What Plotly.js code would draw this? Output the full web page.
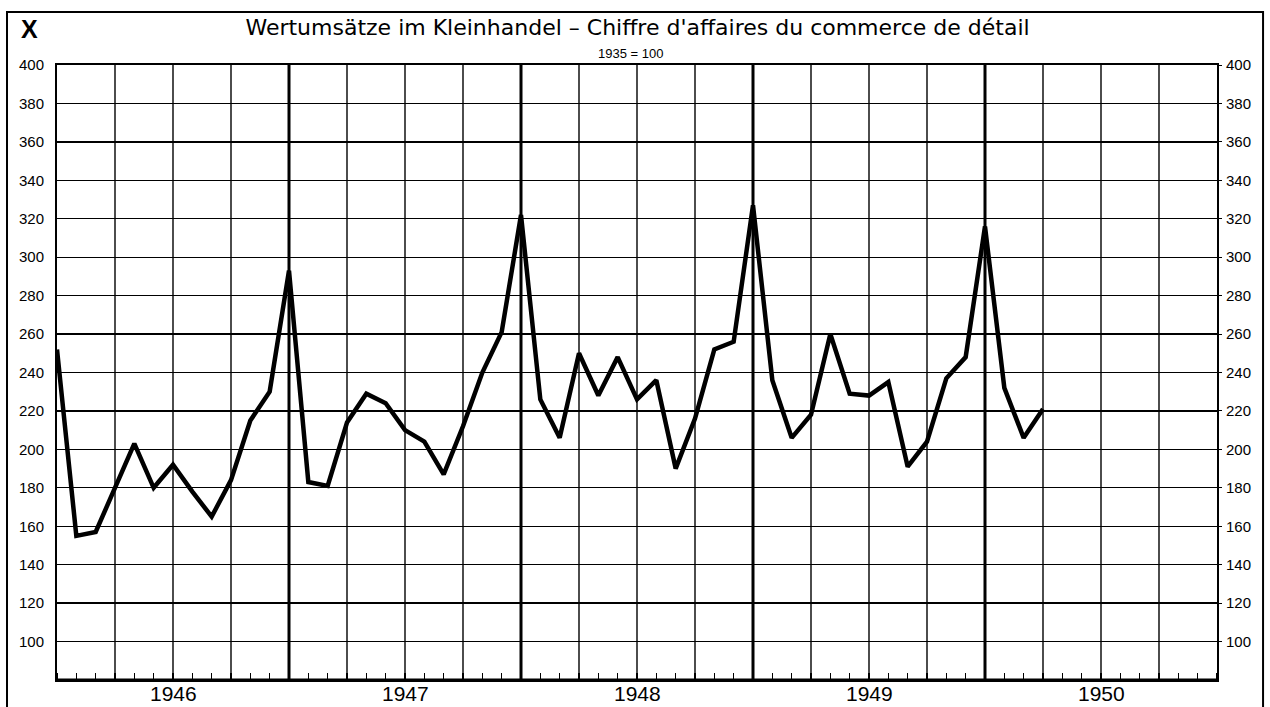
<!DOCTYPE html>
<html>
<head>
<meta charset="utf-8">
<script src="https://cdn.plot.ly/plotly-3.0.1.min.js"></script>
<style>html,body{margin:0;padding:0;background:#fff;}#chart{width:1270px;height:707px;}</style>
</head>
<body>
<div id="chart"></div>
<script>
// Retail sales value index, 1935 = 100; monthly values plotted at month end
var yearLabels = ["1946", "1947", "1948", "1949", "1950"];
var dec1945 = [252];
var v1946 = [155, 157, 180, 203, 180, 192, 178, 165, 184, 215, 230, 293];
var v1947 = [183, 181, 214, 229, 224, 210, 204, 187, 212, 240, 261, 322];
var v1948 = [226, 206, 250, 228, 248, 226, 236, 190, 216, 252, 256, 327];
var v1949 = [236, 206, 218, 260, 229, 228, 235, 191, 204, 237, 248, 316];
var v1950 = [232, 206, 221];
var yTicks = [100, 120, 140, 160, 180, 200, 220, 240, 260, 280, 300, 320, 340, 360, 380, 400];

var values = [].concat(dec1945, v1946, v1947, v1948, v1949, v1950);
// x = months elapsed since 1 Jan 1946 (month-end positions)
var xs = values.map(function (v, i) { return i; });
var nMonths = yearLabels.length * 12;
var yearMid = yearLabels.map(function (y, i) { return i * 12 + 6; });

var shapes = [];
for (var m = 3; m < nMonths; m += 3) {
  var isYear = (m % 12 === 0);
  shapes.push({type: 'line', xref: 'x', yref: 'paper', x0: m, x1: m, y0: 0, y1: 1,
    layer: 'below', line: {color: '#000', width: isYear ? 3 : 1.4}});
}
// outer frame
shapes.push({type: 'rect', xref: 'paper', yref: 'paper', x0: -0.0431, x1: 1.0397, y0: -0.08, y1: 1.0862,
  line: {color: '#000', width: 2}, fillcolor: 'rgba(0,0,0,0)', layer: 'above'});
// heavier base line
shapes.push({type: 'line', xref: 'paper', yref: 'paper', x0: 0, x1: 1, y0: 0, y1: 0,
  line: {color: '#000', width: 3}, layer: 'above'});

var font = "'Liberation Sans', Arial, sans-serif";
var wideFont = "'DejaVu Sans', sans-serif";

var traces = [
  {x: xs, y: values, type: 'scatter', mode: 'lines', line: {color: '#000', width: 4.5},
   hoverinfo: 'skip', showlegend: false, cliponaxis: true},
  {x: xs, y: values, type: 'scatter', mode: 'lines', yaxis: 'y2', line: {color: 'rgba(0,0,0,0)', width: 0},
   hoverinfo: 'skip', showlegend: false}
];

var annotations = [
  {text: 'X', xref: 'paper', yref: 'paper', x: -0.0233, y: 1.058, xanchor: 'center', yanchor: 'middle',
   showarrow: false, font: {family: font, size: 25, color: '#000', weight: 'bold'}},
  {text: '1935 = 100', xref: 'paper', yref: 'paper', x: 0.494, y: 1.019, xanchor: 'center', yanchor: 'middle',
   showarrow: false, font: {family: font, size: 13, color: '#000'}}
];
yearLabels.forEach(function (lab, i) {
  annotations.push({text: lab, xref: 'x', yref: 'paper', x: yearMid[i], y: -0.0215,
    xanchor: 'center', yanchor: 'middle', showarrow: false,
    font: {family: font, size: 21, color: '#000'}});
});

var layout = {
  width: 1270, height: 707,
  margin: {l: 57, r: 53, t: 65, b: 27},
  paper_bgcolor: '#fff', plot_bgcolor: '#fff',
  font: {family: font, color: '#000'},
  title: {text: "Wertumsätze im Kleinhandel – Chiffre d'affaires du commerce de détail",
    font: {family: wideFont, size: 22, color: '#000'}, x: 0.502, xanchor: 'center', y: 0.962, yanchor: 'middle'},
  xaxis: {range: [0, nMonths], tickmode: 'array', tickvals: yearMid, ticktext: yearLabels,
    showticklabels: false, ticks: '', showgrid: false, zeroline: false, showline: true, mirror: true,
    linecolor: '#000', linewidth: 2,
    minor: {tickmode: 'linear', tick0: 0, dtick: 1, ticks: 'inside', ticklen: 7, tickwidth: 1.6, tickcolor: '#000', showgrid: false},
    fixedrange: true},
  yaxis: {range: [80, 400], tickmode: 'array', tickvals: yTicks, ticks: '', ticklabelstandoff: 8,
    showgrid: true, gridcolor: '#000', gridwidth: 1.3, zeroline: false, showline: true, mirror: true,
    linecolor: '#000', linewidth: 2, tickfont: {family: font, size: 15, color: '#000'}, fixedrange: true},
  yaxis2: {range: [80, 400], overlaying: 'y', side: 'right', tickmode: 'array', tickvals: yTicks,
    ticks: 'outside', ticklen: 4, tickcolor: '#000', ticklabelstandoff: 1, showgrid: false, zeroline: false, showline: false,
    tickfont: {family: font, size: 15, color: '#000'}, fixedrange: true},
  shapes: shapes,
  annotations: annotations,
  showlegend: false
};

Plotly.newPlot('chart', traces, layout, {displayModeBar: false, staticPlot: true});
</script>
</body>
</html>
